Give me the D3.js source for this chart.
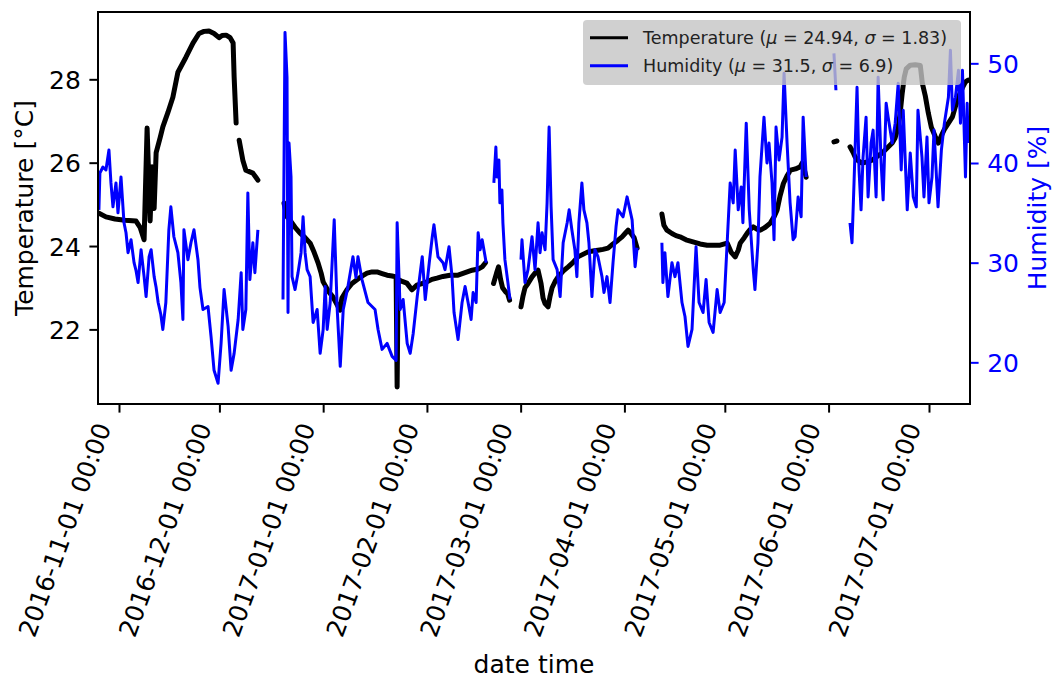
<!DOCTYPE html>
<html>
<head>
<meta charset="utf-8">
<script src="https://cdn.jsdelivr.net/npm/d3@7"></script>
<style>
  body { margin: 0; background: #fff; }
  text { font-family: "DejaVu Sans", sans-serif; }
</style>
</head>
<body>
<svg id="chart" width="1053" height="679"></svg>
<script>
// days counted from 2016-11-01 00:00 (UTC), null = gap in the logger
const tempDays = [-6.0,-3.9,-1.2,1.8,5.1,6.3,7.5,8.4,9.3,9.9,10.5,11.1,12.3,13.1,14.6,16.1,17.6,18.8,20.0,22.1,23.9,25.4,26.9,28.4,29.9,30.8,32.0,33.2,34.1,34.4,35.0,35.5,35.9,37.0,37.9,39.1,40.0,40.9,41.5,45,
  49.3,50.2,51.1,52.6,54.1,55.6,57.1,58.3,59.5,60.4,61.0,62.7,63.9,65.1,66.0,66.6,68.1,69.6,71.1,72.6,74.1,75.6,77.1,78.6,80.1,81.6,82.8,83.1,83.4,84.6,86.0,87.5,89.0,90.5,92.0,93.5,95.0,96.8,98.9,101.3,103.4,105.5,107.3,108.5,109.5,110.5,
  111.9,112.8,113.4,114.0,114.6,115.5,116.1,116.7,118,
  120.1,120.7,121.3,122.2,123.4,124.3,125.2,126.1,126.7,127.3,128.2,128.8,129.4,130.3,131.2,132.7,134.2,135.6,137.1,138.6,140.1,141.6,143.1,144.6,146.1,147.6,149.1,150.3,151.2,152.1,153.0,153.9,154.8,158,
  162.2,162.8,163.7,165.2,166.4,167.6,169.4,171.5,173.6,175.7,177.8,179.6,181.7,182.9,184.1,185.0,185.6,186.8,187.7,188.6,189.5,190.7,191.6,193.1,194.6,195.7,196.6,197.5,198.5,199.7,200.6,202.1,203.5,204.1,204.7,205.3,210,
  213.6,214.5,216,
  218.4,219.3,219.9,220.8,222.0,223.5,225.0,226.5,228.0,229.5,231.0,231.9,232.8,233.4,234.0,234.6,235.2,236.4,237.9,239.4,240.0,240.9,241.8,242.7,243.9,244.8,245.7,246.6,247.8,249.0,249.9,250.8,252.0,252.9,253.7];
const tempVals = [24.79,24.70,24.65,24.62,24.60,24.45,24.15,26.83,24.6,25.9,24.9,26.24,26.6,26.86,27.2,27.57,28.17,28.35,28.53,28.87,29.1,29.15,29.16,29.1,29.0,29.05,29.06,29.0,28.87,28.06,26.95,null,26.54,26.06,25.82,25.78,25.75,25.65,25.58,null,
  25.03,24.7,24.62,24.45,24.31,24.2,24.07,23.85,23.59,23.35,23.14,22.9,22.78,22.6,22.46,22.75,22.95,23.1,23.19,23.28,23.35,23.38,23.38,23.34,23.3,23.28,23.26,20.62,23.2,23.15,23.11,22.95,23.06,23.1,23.14,23.2,23.23,23.27,23.3,23.3,23.36,23.42,23.45,23.5,23.6,null,
  23.1,23.35,23.5,23.2,23.0,22.9,22.86,22.7,null,
  22.54,22.8,23.0,23.1,23.26,23.35,23.42,23.1,22.75,22.62,22.54,22.8,23.0,23.15,23.26,23.4,23.5,23.6,23.74,23.8,23.86,23.88,23.9,23.92,23.95,24.05,24.14,24.22,24.3,24.38,24.3,24.2,23.95,null,
  24.77,24.5,24.38,24.3,24.25,24.22,24.15,24.1,24.05,24.02,24.02,24.02,24.07,23.85,23.74,23.9,24.07,24.2,24.31,24.4,24.46,24.4,24.38,24.45,24.55,24.7,24.86,25.2,25.5,25.7,25.82,25.85,25.9,25.99,25.85,25.65,null,
  26.5,26.52,null,
  26.38,26.25,26.14,26.05,25.99,26.02,26.06,26.15,26.23,26.35,26.47,26.6,26.86,27.2,27.67,28.05,28.25,28.34,28.35,28.33,27.91,27.6,27.19,26.85,26.62,26.47,26.65,26.8,26.95,27.1,27.35,27.58,27.8,27.94,27.98];

const humDays = [-6.0,-5.7,-4.8,-3.9,-3.0,-2.4,-1.8,-0.9,-0.3,0.6,1.5,2.1,2.7,3.6,4.5,5.1,5.7,6.6,7.5,8.1,9.0,9.6,10.5,11.1,11.7,12.5,13.1,14.0,14.9,15.5,16.4,17.6,18.5,19.1,19.4,20.6,21.5,22.4,23.6,24.2,25.1,26.6,27.5,28.4,29.6,30.5,31.4,32.6,33.5,34.4,35.6,36.5,37.0,37.9,38.5,39.1,40.0,40.6,41.5,45,
  49.0,49.6,50.2,50.5,50.8,51.4,51.7,52.6,53.5,54.4,55.0,55.6,56.2,57.1,58.0,59.2,60.1,61.0,61.6,62.2,63.1,64.3,65.2,66.1,67.0,68.4,69.9,70.8,71.4,72.6,74.4,76.5,77.4,78.6,80.1,81.6,82.8,83.1,84.0,84.9,86.1,87.0,87.9,89.1,90.6,91.5,92.7,93.6,94.1,95.3,96.8,97.4,98.6,99.5,100.1,101.3,102.5,103.4,104.3,105.2,105.8,106.7,107.3,107.9,108.5,109.7,110.8,
  112.0,112.6,112.9,113.5,113.8,114.4,114.7,115.3,116.2,116.8,118.5,
  120.1,120.4,121.3,122.2,123.4,124.3,125.2,125.8,126.4,127.3,127.9,128.5,129.1,129.7,130.9,131.8,132.7,133.9,134.5,135.3,136.2,136.8,137.4,138.3,138.9,139.8,140.4,141.3,142.2,143.1,144.3,144.9,145.8,146.7,147.6,148.5,149.1,150.6,151.8,153.3,154.2,154.8,158,
  162.2,162.5,163.1,164.0,165.2,166.1,167.0,168.2,169.1,170.0,171.2,172.4,173.3,174.5,175.4,176.3,177.5,178.7,179.6,180.8,181.7,182.6,183.5,184.1,185.0,185.9,186.4,187.4,188.3,189.5,190.0,190.9,191.5,192.7,193.6,194.2,195.1,195.7,196.3,197.2,198.1,198.7,199.6,200.5,201.4,202.0,202.9,203.8,204.4,205.3,210,
  213.6,214.2,216,
  218.4,219.0,219.6,220.5,221.1,221.7,222.3,223.2,223.8,224.7,225.3,226.2,226.8,227.7,228.3,229.2,229.8,231.0,231.9,232.8,233.7,234.3,235.5,236.4,237.3,238.2,238.7,239.9,240.5,241.4,242.0,242.9,243.5,244.7,245.7,246.6,247.8,248.4,249.0,249.9,250.8,251.4,252.0,252.9,253.4,253.7];
const humVals = [35.3,39.0,39.6,39.3,41.3,38.0,35.6,38.0,35.0,38.6,34.0,33.0,31.0,32.3,30.0,29.2,28.0,31.3,28.6,26.6,30.6,31.3,28.6,27.5,26.0,24.8,23.3,26.0,33.3,35.6,32.6,31.0,28.0,24.3,33.3,30.3,32.0,33.3,30.3,27.5,25.3,25.6,22.6,19.2,17.9,21.9,27.3,23.6,19.2,20.9,24.3,29.0,23.3,25.3,37.0,28.3,32.0,29.0,33.3,null,
  26.3,53.1,48.6,25.0,42.0,38.6,28.6,27.3,29.0,31.0,34.6,31.0,29.3,28.6,24.0,25.3,20.9,23.3,27.6,23.3,26.0,34.3,25.3,19.6,25.3,27.6,30.6,28.5,30.6,28.3,26.0,25.3,23.3,21.3,21.9,20.6,20.2,34.0,25.3,26.3,21.9,20.9,22.9,26.6,30.6,26.3,30.0,32.6,33.8,30.6,30.0,29.3,31.6,28.6,25.0,22.3,26.0,27.6,26.0,24.3,27.0,26.0,33.0,31.3,32.3,30.0,null,
  38.0,41.6,38.6,40.3,36.0,37.3,34.0,30.3,28.0,26.3,null,
  30.3,32.3,28.0,29.3,32.6,29.3,34.0,31.0,33.0,31.3,36.0,43.6,35.6,30.3,29.3,26.6,32.0,34.0,35.3,33.3,31.3,28.6,34.0,38.0,35.3,34.0,32.0,26.6,31.3,30.6,28.6,27.0,28.6,26.0,30.0,33.6,35.3,34.6,36.6,34.3,29.6,31.5,null,
  32.0,28.0,31.0,26.6,30.0,28.6,30.0,26.0,24.6,21.6,23.3,31.6,26.0,25.0,28.3,24.0,23.0,27.3,25.0,26.0,32.0,38.0,36.0,41.3,35.3,37.6,34.0,44.0,35.3,29.3,27.3,32.0,38.6,44.6,40.0,42.0,38.0,32.3,43.6,40.3,42.6,49.0,42.0,36.0,32.3,32.6,36.6,34.6,44.6,38.6,null,
  51.0,47.3,null,
  34.0,32.0,38.0,47.6,39.3,35.3,40.6,44.6,36.6,42.0,43.3,36.6,48.6,40.0,36.3,46.0,44.6,42.0,44.0,48.0,39.3,45.3,35.3,41.0,36.6,35.6,45.3,40.6,36.6,42.6,36.0,38.6,43.3,35.6,41.3,44.0,46.6,51.3,45.3,46.6,49.3,44.0,49.3,38.6,46.0,42.0];

const tempTicks = [22, 24, 26, 28];
const humTicks = [20, 30, 40, 50];
const legendItems = [
  { name: "Temperature", mu: "24.94", sigma: "1.83", color: "black" },
  { name: "Humidity", mu: "31.5", sigma: "6.9", color: "blue" }
];

const dayMs = 86400000;
const origin = Date.UTC(2016, 10, 1);
const toDate = d => new Date(origin + d * dayMs);

const svg = d3.select("#chart"),
      margin = { top: 12, right: 83, bottom: 275, left: 98 },
      width = +svg.attr("width") - margin.left - margin.right,
      height = +svg.attr("height") - margin.top - margin.bottom;

const g = svg.append("g").attr("transform", `translate(${margin.left},${margin.top})`);

const x = d3.scaleUtc().domain([toDate(-6.27), toDate(254.25)]).range([0, width]);
const yT = d3.scaleLinear().domain([20.21, 29.615]).range([height, 0]);
const yH = d3.scaleLinear().domain([15.82, 55.15]).range([height, 0]);

const tempData = tempDays.map((d, i) => ({ t: toDate(d), v: tempVals[i] }));
const humData = humDays.map((d, i) => ({ t: toDate(d), v: humVals[i] }));

svg.append("defs").append("clipPath").attr("id", "plotClip")
  .append("rect").attr("width", width).attr("height", height);

const plot = g.append("g").attr("clip-path", "url(#plotClip)");

plot.append("path")
  .datum(tempData)
  .attr("fill", "none")
  .attr("stroke", "black")
  .attr("stroke-width", 5)
  .attr("stroke-linejoin", "round")
  .attr("stroke-linecap", "round")
  .attr("d", d3.line().defined(d => d.v != null).x(d => x(d.t)).y(d => yT(d.v)));

plot.append("path")
  .datum(humData)
  .attr("fill", "none")
  .attr("stroke", "blue")
  .attr("stroke-width", 3)
  .attr("stroke-linejoin", "round")
  .attr("d", d3.line().defined(d => d.v != null).x(d => x(d.t)).y(d => yH(d.v)));

// axes
const tickLen = 8.6, tickPad = 8.6, fontSize = "25px";

const xAxis = g.append("g")
  .attr("transform", `translate(0,${height})`)
  .call(d3.axisBottom(x)
    .ticks(d3.utcMonth.every(1))
    .tickFormat(d3.utcFormat("%Y-%m-%d %H:%M"))
    .tickSize(tickLen)
    .tickSizeOuter(0));
xAxis.select(".domain").remove();
xAxis.selectAll(".tick line").attr("stroke", "black").attr("stroke-width", 2);
xAxis.selectAll(".tick text")
  .attr("fill", "black")
  .style("font-size", fontSize)
  .attr("text-anchor", "end")
  .attr("x", 0).attr("y", 0).attr("dy", null)
  .attr("transform", "translate(-8,23) rotate(-70)");

const yAxisL = g.append("g")
  .call(d3.axisLeft(yT).tickValues(tempTicks).tickSize(tickLen).tickPadding(tickPad).tickSizeOuter(0));
yAxisL.select(".domain").remove();
yAxisL.selectAll(".tick line").attr("stroke", "black").attr("stroke-width", 2);
yAxisL.selectAll(".tick text").attr("fill", "black").style("font-size", fontSize).attr("dy", "0.36em");

const yAxisR = g.append("g")
  .attr("transform", `translate(${width},0)`)
  .call(d3.axisRight(yH).tickValues(humTicks).tickSize(tickLen).tickPadding(tickPad).tickSizeOuter(0));
yAxisR.select(".domain").remove();
yAxisR.selectAll(".tick line").attr("stroke", "blue").attr("stroke-width", 2);
yAxisR.selectAll(".tick text").attr("fill", "blue").style("font-size", fontSize).attr("dy", "0.36em");

// frame
g.append("rect")
  .attr("width", width).attr("height", height)
  .attr("fill", "none").attr("stroke", "black").attr("stroke-width", 2);

// axis labels
g.append("text")
  .attr("x", width / 2).attr("y", 673 - margin.top)
  .attr("text-anchor", "middle")
  .style("font-size", fontSize)
  .text("date time");

g.append("text")
  .attr("transform", `translate(${33 - margin.left},${height / 2}) rotate(-90)`)
  .attr("text-anchor", "middle")
  .style("font-size", fontSize)
  .text("Temperature [°C]");

g.append("text")
  .attr("transform", `translate(${1046 - margin.left},${height / 2}) rotate(-90)`)
  .attr("text-anchor", "middle")
  .attr("fill", "blue")
  .style("font-size", fontSize)
  .text("Humidity [%]");

// legend
const legend = g.append("g").attr("transform", `translate(${583 - margin.left},${20 - margin.top})`);
legend.append("rect")
  .attr("width", 378).attr("height", 65).attr("rx", 4)
  .attr("fill", "#c4c4c4").attr("fill-opacity", 0.8);

legendItems.forEach((item, i) => {
  const ly = 17.7 + i * 28;
  legend.append("line")
    .attr("x1", 7).attr("x2", 45).attr("y1", ly).attr("y2", ly)
    .attr("stroke", item.color).attr("stroke-width", 3);
  const t = legend.append("text")
    .attr("x", 60).attr("y", ly + 6.5)
    .attr("fill", "#222")
    .style("font-size", "17.5px");
  t.append("tspan").text(`${item.name} (`);
  t.append("tspan").style("font-style", "italic").text("μ");
  t.append("tspan").text(` = ${item.mu}, `);
  t.append("tspan").style("font-style", "italic").text("σ");
  t.append("tspan").text(` = ${item.sigma})`);
});
</script>
</body>
</html>
